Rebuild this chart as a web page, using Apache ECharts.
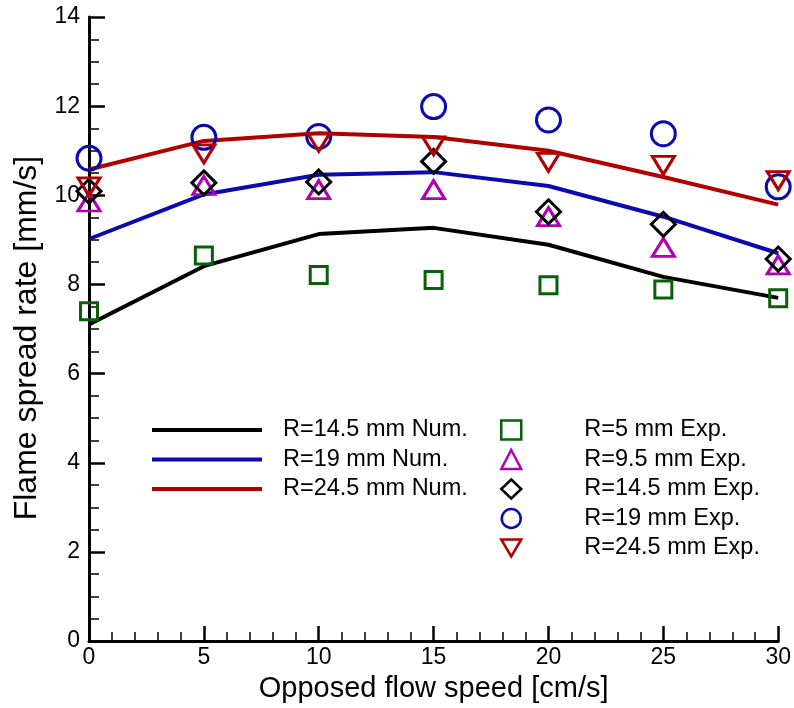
<!DOCTYPE html>
<html>
<head>
<meta charset="utf-8">
<script src="https://cdn.jsdelivr.net/npm/echarts@6/dist/echarts.min.js"></script>
<style>html,body{margin:0;padding:0;background:#fff}#c{width:794px;height:708px}</style>
</head>
<body>
<div id="c"></div>
<script>
const speeds = [0, 5, 10, 15, 20, 25, 30];
// Numerical results
const num145 = [7.10, 8.41, 9.13, 9.27, 8.89, 8.17, 7.70];
const num19  = [9.02, 10.02, 10.46, 10.52, 10.21, 9.52, 8.70];
const num245 = [10.58, 11.22, 11.39, 11.31, 11.00, 10.41, 9.79];
// Experimental results
const exp5   = [7.40, 8.65, 8.21, 8.10, 7.98, 7.89, 7.69];
const exp95  = [9.85, 10.22, 10.13, 10.13, 9.52, 8.83, 8.44];
const exp145 = [10.09, 10.28, 10.30, 10.76, 9.63, 9.35, 8.57];
const exp19  = [10.83, 11.30, 11.32, 11.99, 11.69, 11.38, 10.19];
const exp245 = [10.19, 10.93, 11.19, 11.11, 10.74, 10.67, 10.33];
const xTicks = [0, 5, 10, 15, 20, 25, 30];
const yTicks = [0, 2, 4, 6, 8, 10, 12, 14];
const numNames = ['R=14.5 mm Num.', 'R=19 mm Num.', 'R=24.5 mm Num.'];
const expNames = ['R=5 mm Exp.', 'R=9.5 mm Exp.', 'R=14.5 mm Exp.', 'R=19 mm Exp.', 'R=24.5 mm Exp.'];

const pair = arr => speeds.map((x, i) => [x, arr[i]]);
const FONT = 'Liberation Sans, Arial, Helvetica, sans-serif';
const BLACK = '#000000', BLUE = '#0a0ab0', RED = '#b00000', GREEN = '#0a5f0a', MAGENTA = '#b000b0';

function lineSeries(name, data, color) {
  return { type: 'line', name, data: pair(data), symbol: 'none', showSymbol: false,
    lineStyle: { color, width: 4 }, itemStyle: { color }, z: 2, animation: false };
}
function scatterSeries(name, data, color, symbol, size, rotate) {
  return { type: 'scatter', name, data: pair(data), symbol, symbolSize: size,
    symbolRotate: rotate || 0, clip: false,
    itemStyle: { color: 'rgba(255,255,255,0)', borderColor: color, borderWidth: 3, opacity: 1 },
    z: 5, animation: false };
}

const chart = echarts.init(document.getElementById('c'), null, { renderer: 'canvas' });
chart.setOption({
  backgroundColor: '#ffffff',
  animation: false,
  textStyle: { fontFamily: FONT },
  grid: { left: 89, right: 15, top: 17, bottom: 62, containLabel: false },
  xAxis: {
    type: 'value', min: xTicks[0], max: xTicks[xTicks.length - 1], interval: 5,
    name: 'Opposed flow speed [cm/s]', nameLocation: 'middle', nameGap: 31,
    nameTextStyle: { fontFamily: FONT, fontSize: 29, color: '#000' },
    axisLine: { lineStyle: { color: '#000', width: 3 } },
    axisTick: { inside: true, length: 15, lineStyle: { color: '#000', width: 2.5 } },
    minorTick: { show: true, splitNumber: 5, length: 9, lineStyle: { color: '#000', width: 1.5 } },
    axisLabel: { fontSize: 23, color: '#000', margin: 5, fontFamily: FONT },
    splitLine: { show: false }
  },
  yAxis: {
    type: 'value', min: yTicks[0], max: yTicks[yTicks.length - 1], interval: 2,
    name: 'Flame spread rate [mm/s]', nameLocation: 'middle', nameGap: 44, nameRotate: 90,
    nameTextStyle: { fontFamily: FONT, fontSize: 32, color: '#000', padding: [0, 18, 0, 0] },
    axisLine: { lineStyle: { color: '#000', width: 3 } },
    axisTick: { inside: true, length: 16, lineStyle: { color: '#000', width: 2.5 } },
    minorTick: { show: true, splitNumber: 4, length: 10, lineStyle: { color: '#000', width: 1.5 } },
    axisLabel: { fontSize: 23, color: '#000', margin: 9, fontFamily: FONT },
    splitLine: { show: false }
  },
  legend: [
    {
      orient: 'vertical', left: 152, top: 418, padding: 0, itemWidth: 110, itemHeight: 4, itemGap: 5.5,
      icon: 'rect',
      data: numNames,
      itemStyle: { borderWidth: 0 },
      textStyle: { fontFamily: FONT, fontSize: 23.5, lineHeight: 24, color: '#000', padding: [0, 0, 0, 16] },
      selectedMode: false
    },
    {
      orient: 'vertical', left: 500, top: 418, padding: 0, itemWidth: 20, itemHeight: 19, itemGap: 5.5,
      data: expNames.slice(0, 4).map(n => ({ name: n })).concat([
        { name: expNames[4], icon: 'path://M0,0 L20,0 L10,17 Z' }
      ]),
      itemStyle: { borderWidth: 2.5, opacity: 1 },
      textStyle: { fontFamily: FONT, fontSize: 23.5, lineHeight: 24, color: '#000', padding: [0, 0, 0, 58] },
      selectedMode: false
    }
  ],
  series: [
    lineSeries(numNames[0], num145, BLACK),
    lineSeries(numNames[1], num19, BLUE),
    lineSeries(numNames[2], num245, RED),
    scatterSeries(expNames[0], exp5, GREEN, 'rect', 17),
    scatterSeries(expNames[1], exp95, MAGENTA, 'triangle', [22, 18]),
    scatterSeries(expNames[2], exp145, BLACK, 'diamond', [24, 24]),
    scatterSeries(expNames[3], exp19, BLUE, 'circle', 24),
    scatterSeries(expNames[4], exp245, RED, 'triangle', [22, 18], 180)
  ]
});
</script>
</body>
</html>
